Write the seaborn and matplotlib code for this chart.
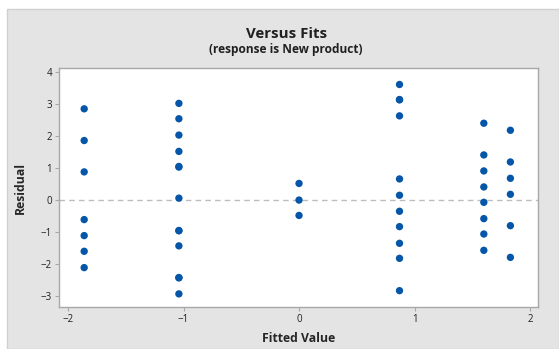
import numpy as np
import pandas as pd
import seaborn as sns
import matplotlib.pyplot as plt
from matplotlib.patches import Rectangle

# ---- data ----
fit_levels = [-1.86, -1.04, 0.0, 0.87, 1.60, 1.83]
resid_g1 = [2.85, 1.86, 0.88, -0.61, -1.11, -1.60, -2.11]
resid_g2 = [3.02, 2.54, 2.03, 1.52, 1.05, 1.03, 0.06, -0.95, -0.96, -1.43,
            -2.42, -2.43, -2.93]
resid_g3 = [0.52, 0.0, -0.48]
resid_g4 = [3.61, 3.13, 3.14, 2.63, 0.66, 0.15, -0.35, -0.83, -1.35, -1.82,
            -2.83]
resid_g5 = [2.40, 1.41, 0.91, 0.41, -0.07, -0.58, -1.06, -1.57]
resid_g6 = [2.18, 1.19, 0.68, 0.18, -0.80, -1.79]
x_ticks = [-2, -1, 0, 1, 2]
y_ticks = [-3, -2, -1, 0, 1, 2, 3, 4]

groups = [resid_g1, resid_g2, resid_g3, resid_g4, resid_g5, resid_g6]
df = pd.DataFrame({
    'fit': np.concatenate([[f] * len(g) for f, g in zip(fit_levels, groups)]),
    'resid': np.concatenate(groups),
})

# ---- style ----
sns.set_style('white')
plt.rcParams['font.family'] = ['Open Sans', 'DejaVu Sans']

panel_gray = '#e4e4e4'
spine_gray = '#a8a8a8'
dot_blue = '#0556a8'

fig = plt.figure(figsize=(5.59, 3.49), dpi=100)
fig.patch.set_facecolor('white')
# gray minitab-style panel behind everything
fig.patches.append(Rectangle((7 / 559, 0), 1 - 7 / 559, 1 - 9 / 349,
                             transform=fig.transFigure, facecolor=panel_gray,
                             edgecolor='#d0d0d0', lw=1, zorder=-10))

ax = fig.add_axes([59 / 559, 1 - 307 / 349, (538 - 59) / 559, (307 - 68) / 349])
ax.set_facecolor('white')

ax.axhline(0, color='#bdbdbd', ls=(0, (4, 3)), lw=1, zorder=1)
sns.scatterplot(data=df, x='fit', y='resid', ax=ax, color=dot_blue,
                s=28, edgecolor='none', zorder=3, legend=False)

ax.set_xlim(-2.078, 2.069)
ax.set_ylim(-3.34, 4.125)
ax.set_xticks(x_ticks)
ax.set_yticks(y_ticks)
ax.tick_params(axis='both', length=3, width=0.8, color=spine_gray,
               labelsize=7, labelcolor='#202020', pad=2,
               bottom=True, left=True)
for sp in ax.spines.values():
    sp.set_color(spine_gray)
    sp.set_linewidth(1)

ax.set_xlabel('Fitted Value', fontsize=8.8, fontweight='bold', labelpad=5)
ax.set_ylabel('Residual', fontsize=8.8, fontweight='bold', labelpad=10)

fig.text(0.512, 1 - 34 / 349, 'Versus Fits', ha='center', va='center',
         fontsize=10.8, fontweight='bold', color='#202020')
fig.text(0.512, 1 - 50 / 349, '(response is New product)', ha='center',
         va='center', fontsize=8.6, fontweight='bold', color='#202020')

fig.savefig('out.png', dpi=100, facecolor=fig.get_facecolor())
